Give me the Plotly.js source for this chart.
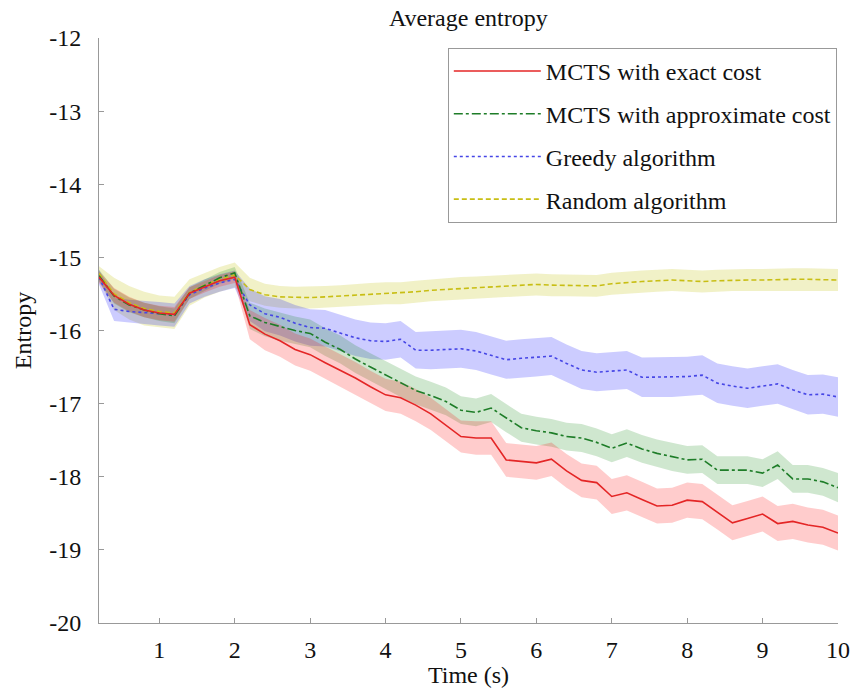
<!DOCTYPE html>
<html>
<head>
<meta charset="utf-8">
<script src="https://cdn.plot.ly/plotly-3.0.1.min.js"></script>
</head>
<body style="margin:0">
<div id="chart"></div>
<script>
// Time (s)
var time = [0.2,0.4,0.6,0.8,1.0,1.2,1.4,1.6,1.8,2.0,
            2.2,2.4,2.6,2.8,3.0,3.2,3.4,3.6,3.8,4.0,
            4.2,4.4,4.6,4.8,5.0,5.2,5.4,5.6,5.8,6.0,
            6.2,6.4,6.6,6.8,7.0,7.2,7.4,7.6,7.8,8.0,
            8.2,8.4,8.6,8.8,9.0,9.2,9.4,9.6,9.8,10.0];

var seriesNames = ['MCTS with exact cost','MCTS with approximate cost','Greedy algorithm','Random algorithm'];

var mctsExact = [-15.27,-15.52,-15.64,-15.72,-15.76,-15.78,-15.49,-15.40,-15.32,-15.27,
                 -15.92,-16.05,-16.14,-16.26,-16.33,-16.44,-16.54,-16.65,-16.77,-16.88,
                 -16.92,-17.02,-17.14,-17.30,-17.45,-17.47,-17.47,-17.77,-17.79,-17.81,
                 -17.76,-17.92,-18.05,-18.08,-18.27,-18.22,-18.31,-18.40,-18.39,-18.32,
                 -18.34,-18.48,-18.63,-18.57,-18.51,-18.64,-18.61,-18.66,-18.69,-18.77];
var mctsExactStd = [0.08,0.10,0.10,0.10,0.10,0.10,0.08,0.08,0.08,0.08,
                    0.20,0.22,0.22,0.22,0.22,0.22,0.22,0.22,0.22,0.22,
                    0.22,0.22,0.22,0.22,0.22,0.23,0.23,0.23,0.23,0.23,
                    0.23,0.23,0.23,0.23,0.24,0.24,0.24,0.24,0.24,0.24,
                    0.24,0.24,0.24,0.24,0.24,0.24,0.24,0.24,0.24,0.24];

var mctsApprox = [-15.25,-15.53,-15.65,-15.72,-15.77,-15.80,-15.49,-15.38,-15.28,-15.21,
                  -15.80,-15.89,-15.95,-16.00,-16.04,-16.16,-16.26,-16.39,-16.50,-16.61,
                  -16.72,-16.82,-16.89,-16.97,-17.09,-17.12,-17.06,-17.20,-17.33,-17.37,
                  -17.40,-17.45,-17.47,-17.53,-17.61,-17.54,-17.62,-17.68,-17.73,-17.77,
                  -17.76,-17.91,-17.91,-17.91,-17.95,-17.84,-18.03,-18.03,-18.07,-18.15];
var mctsApproxStd = [0.08,0.10,0.10,0.10,0.10,0.10,0.08,0.08,0.08,0.08,
                     0.18,0.19,0.19,0.19,0.19,0.19,0.19,0.19,0.19,0.19,
                     0.19,0.19,0.19,0.19,0.19,0.19,0.19,0.19,0.19,0.19,
                     0.19,0.19,0.19,0.19,0.19,0.19,0.19,0.19,0.19,0.19,
                     0.19,0.19,0.19,0.19,0.19,0.19,0.19,0.19,0.19,0.20];

var greedy = [-15.27,-15.71,-15.74,-15.75,-15.77,-15.79,-15.51,-15.42,-15.35,-15.30,
              -15.65,-15.77,-15.82,-15.90,-15.96,-15.97,-16.04,-16.10,-16.14,-16.15,
              -16.12,-16.27,-16.27,-16.26,-16.25,-16.28,-16.34,-16.40,-16.38,-16.37,
              -16.35,-16.45,-16.54,-16.57,-16.56,-16.54,-16.64,-16.64,-16.64,-16.63,
              -16.61,-16.72,-16.76,-16.79,-16.76,-16.73,-16.81,-16.88,-16.87,-16.91];
var greedyStd = [0.10,0.16,0.16,0.16,0.16,0.16,0.12,0.12,0.12,0.12,
                 0.22,0.24,0.25,0.25,0.25,0.25,0.25,0.25,0.25,0.25,
                 0.25,0.25,0.26,0.26,0.26,0.26,0.26,0.26,0.26,0.26,
                 0.26,0.26,0.26,0.26,0.26,0.26,0.27,0.27,0.27,0.27,
                 0.27,0.27,0.27,0.27,0.27,0.27,0.27,0.27,0.27,0.27];

var randomAlg = [-15.22,-15.50,-15.62,-15.70,-15.74,-15.76,-15.48,-15.38,-15.30,-15.24,
                 -15.44,-15.51,-15.54,-15.55,-15.55,-15.54,-15.53,-15.51,-15.50,-15.49,
                 -15.49,-15.47,-15.45,-15.44,-15.42,-15.41,-15.40,-15.39,-15.38,-15.37,
                 -15.38,-15.38,-15.38,-15.39,-15.36,-15.34,-15.33,-15.32,-15.31,-15.32,
                 -15.33,-15.32,-15.31,-15.31,-15.31,-15.30,-15.30,-15.30,-15.31,-15.31];
var randomStd = [0.10,0.22,0.23,0.23,0.22,0.22,0.18,0.17,0.17,0.17,
                 0.16,0.15,0.15,0.15,0.15,0.15,0.15,0.15,0.15,0.15,
                 0.15,0.15,0.15,0.15,0.15,0.15,0.15,0.15,0.15,0.15,
                 0.15,0.15,0.15,0.15,0.15,0.15,0.15,0.15,0.15,0.15,
                 0.15,0.15,0.15,0.15,0.15,0.15,0.15,0.15,0.15,0.15];

var yTickVals = [-20,-19,-18,-17,-16,-15,-14,-13,-12];
var yTickText = ['-20','-19','-18','-17','-16','-15','-14','-13','-12'];
var xTickVals = [1,2,3,4,5,6,7,8,9,10];

var means = [mctsExact, mctsApprox, greedy, randomAlg];
var stds = [mctsExactStd, mctsApproxStd, greedyStd, randomStd];
var lineColors = ['rgb(228,38,38)','rgb(30,125,40)','rgb(70,70,230)','rgb(200,190,20)'];
var fillColors = ['rgba(255,0,0,0.2)','rgba(0,128,0,0.19)','rgba(0,0,255,0.2)','rgba(190,190,0,0.22)'];
var dashes = ['solid','dashdot','dot','5px,3px'];

var FONT = 'Liberation Serif';
var FS = 24;
function f(){ return {family: FONT, size: FS, color: '#111'}; }
var traces = [];
// bands
[3,2,1,0].forEach(function(i){
  var m = means[i], s = stds[i];
  var upper = m.map(function(v,k){return v + s[k];});
  var lower = m.map(function(v,k){return v - s[k];});
  traces.push({
    x: time.concat(time.slice().reverse()),
    y: upper.concat(lower.slice().reverse()),
    type: 'scatter', mode: 'lines', fill: 'toself',
    fillcolor: fillColors[i], line: {width: 0, color: 'rgba(0,0,0,0)'},
    hoverinfo: 'skip', showlegend: false
  });
});
// lines (random drawn first so it sits under the others early on)
[3,2,1,0].forEach(function(i){
  traces.push({
    x: time, y: means[i], type: 'scatter', mode: 'lines',
    name: seriesNames[i], legendgroup: 'g' + i, legendrank: i + 1,
    line: {color: lineColors[i], width: 1.6, dash: dashes[i]}
  });
});

var layout = {
  width: 853, height: 688,
  margin: {l: 99, r: 15, t: 38, b: 65},
  paper_bgcolor: '#fff', plot_bgcolor: '#fff',
  title: {text: 'Average entropy', font: f(),
          x: 0.549, xanchor: 'center', y: 0.974, yanchor: 'middle'},
  xaxis: {
    range: [0.2, 10], tickvals: xTickVals, ticks: 'inside', ticklen: 5,
    tickcolor: '#999', showline: true, linecolor: '#999', linewidth: 1,
    showgrid: false, zeroline: false, mirror: false,
    tickfont: f(),
    ticklabelstandoff: 5,
    title: {text: 'Time (s)', font: f(), standoff: 0}
  },
  yaxis: {
    range: [-20, -12], tickvals: yTickVals, ticktext: yTickText, ticks: 'inside', ticklen: 5,
    tickcolor: '#999', showline: true, linecolor: '#999', linewidth: 1,
    showgrid: false, zeroline: false, mirror: false,
    tickfont: f(),
    ticklabelstandoff: 12,
    title: {text: 'Entropy', font: f(), standoff: 10}
  },
  legend: {
    x: 0.472, y: 0.983, xanchor: 'left', yanchor: 'top',
    bordercolor: '#999', borderwidth: 1, bgcolor: '#fff',
    font: f(),
    tracegroupgap: 8.5, itemwidth: 87, traceorder: 'grouped'
  },
  showlegend: true
};

Plotly.newPlot('chart', traces, layout, {displayModeBar: false});
</script>
</body>
</html>
